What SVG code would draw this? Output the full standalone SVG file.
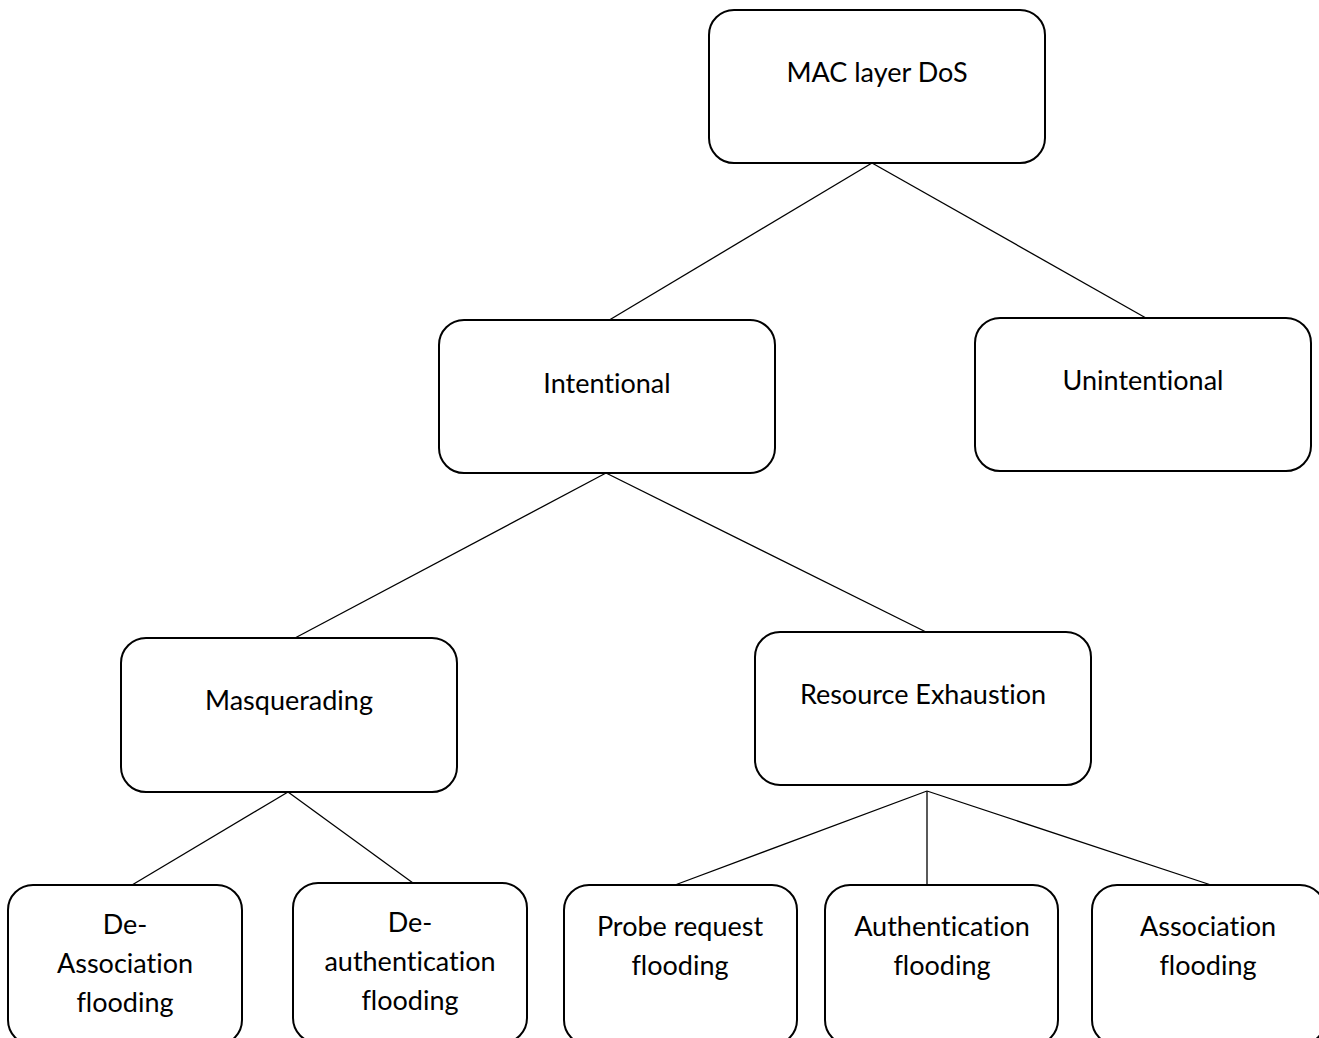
<svg xmlns="http://www.w3.org/2000/svg" width="1319" height="1038" viewBox="0 0 1319 1038">
  <style>
    .box { fill: #ffffff; stroke: #000000; stroke-width: 2; }
    .lbl { font-family: Lato, "Open Sans", "Liberation Sans", sans-serif; font-size: 27px; fill: #000000; text-anchor: middle; font-variant-ligatures: none; }
    .conn line { stroke: #000000; stroke-width: 1.3; }
  </style>
  <rect width="1319" height="1038" fill="#ffffff"/>
  <g id="connectors" class="conn">
    <line x1="872" y1="163" x2="606" y2="322"/>
    <line x1="872" y1="163" x2="1153" y2="322"/>
    <line x1="606" y1="473" x2="295" y2="638"/>
    <line x1="606" y1="473" x2="928" y2="633"/>
    <line x1="288" y1="792" x2="132" y2="885"/>
    <line x1="288" y1="792" x2="413" y2="883"/>
    <line x1="927" y1="791" x2="675" y2="885"/>
    <line x1="927" y1="791" x2="927" y2="885"/>
    <line x1="927" y1="791" x2="1211" y2="885"/>
  </g>
  <g id="mac-layer-dos">
    <rect class="box" x="709" y="10" width="336" height="153" rx="25"/>
    <text class="lbl" x="877" y="82">MAC layer DoS</text>
  </g>
  <g id="intentional">
    <rect class="box" x="439" y="320" width="336" height="153" rx="25"/>
    <text class="lbl" x="607" y="393">Intentional</text>
  </g>
  <g id="unintentional">
    <rect class="box" x="975" y="318" width="336" height="153" rx="25"/>
    <text class="lbl" x="1143" y="390">Unintentional</text>
  </g>
  <g id="masquerading">
    <rect class="box" x="121" y="638" width="336" height="154" rx="25"/>
    <text class="lbl" x="289" y="710">Masquerading</text>
  </g>
  <g id="resource-exhaustion">
    <rect class="box" x="755" y="632" width="336" height="153" rx="25"/>
    <text class="lbl" x="923" y="704">Resource Exhaustion</text>
  </g>
  <g id="de-association-flooding">
    <rect class="box" x="8" y="885" width="234" height="160" rx="25"/>
    <text class="lbl" x="125" y="934">De-</text>
    <text class="lbl" x="125" y="973">Association</text>
    <text class="lbl" x="125" y="1012">flooding</text>
  </g>
  <g id="de-authentication-flooding">
    <rect class="box" x="293" y="883" width="234" height="160" rx="25"/>
    <text class="lbl" x="410" y="932">De-</text>
    <text class="lbl" x="410" y="971">authentication</text>
    <text class="lbl" x="410" y="1010">flooding</text>
  </g>
  <g id="probe-request-flooding">
    <rect class="box" x="564" y="885" width="233" height="160" rx="25"/>
    <text class="lbl" x="680" y="936">Probe request</text>
    <text class="lbl" x="680" y="975">flooding</text>
  </g>
  <g id="authentication-flooding">
    <rect class="box" x="825" y="885" width="233" height="160" rx="25"/>
    <text class="lbl" x="942" y="936">Authentication</text>
    <text class="lbl" x="942" y="975">flooding</text>
  </g>
  <g id="association-flooding">
    <rect class="box" x="1092" y="885" width="233" height="160" rx="25"/>
    <text class="lbl" x="1208" y="936">Association</text>
    <text class="lbl" x="1208" y="975">flooding</text>
  </g>
</svg>
